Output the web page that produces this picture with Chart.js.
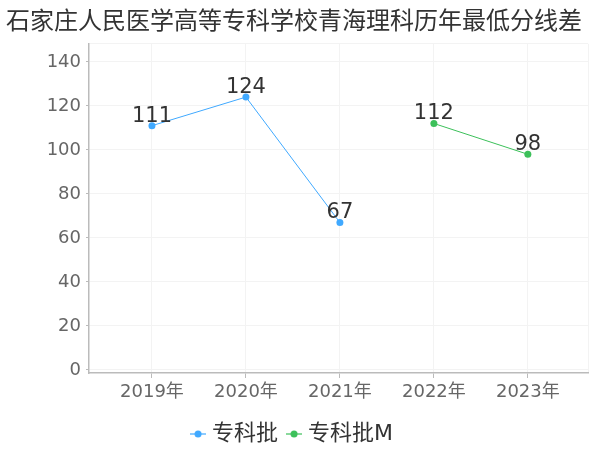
<!DOCTYPE html>
<html>
<head>
<meta charset="utf-8">
<script src="https://cdn.jsdelivr.net/npm/chart.js@4/dist/chart.umd.min.js"></script>
<style>
html,body{margin:0;padding:0;background:#fff;}
#wrap{width:600px;height:450px;}
</style>
</head>
<body>
<div id="wrap"><canvas id="c" width="600" height="450"></canvas></div>
<script>
const titleText = '石家庄人民医学高等专科学校青海理科历年最低分线差';
const categories = ['2019年', '2020年', '2021年', '2022年', '2023年'];
const seriesNames = ['专科批', '专科批M'];
const seriesA = [111, 124, 67, null, null];
const seriesB = [null, null, null, 112, 98];
const yTicks = [0, 20, 40, 60, 80, 100, 120, 140];
const colors = ['#40a9ff', '#3cc05a'];

const FONT = "'DejaVu Sans', 'Noto Sans CJK SC', sans-serif";
const CJK = "'Noto Sans CJK SC', sans-serif";
const Y_MIN = -1.37, Y_MAX = 148.2;
const X_MIN = -0.67, X_MAX = 4.64;

function toPoints(arr){ return arr.map((v,i)=>({x:i, y:v})); }

function legendIcon(color){
  const c = document.createElement('canvas');
  c.width = 16; c.height = 10;
  const g = c.getContext('2d');
  g.strokeStyle = color; g.globalAlpha = 0.6; g.lineWidth = 2;
  g.beginPath(); g.moveTo(0,5); g.lineTo(16,5); g.stroke();
  g.globalAlpha = 1; g.fillStyle = color;
  g.beginPath(); g.arc(8,5,3.5,0,Math.PI*2); g.fill();
  return c;
}

const labelPlugin = {
  id: 'valueLabels',
  afterDatasetsDraw(chart){
    const ctx = chart.ctx;
    ctx.save();
    ctx.font = "21px " + FONT;
    ctx.fillStyle = '#333';
    ctx.textAlign = 'center';
    ctx.textBaseline = 'bottom';
    chart.data.datasets.forEach((ds, di)=>{
      const meta = chart.getDatasetMeta(di);
      meta.data.forEach((pt, i)=>{
        const v = ds.data[i].y;
        if (v === null || v === undefined) return;
        ctx.fillText(String(v), pt.x, pt.y + 1);
      });
    });
    ctx.restore();
  }
};

new Chart(document.getElementById('c'), {
  type: 'line',
  data: {
    datasets: [
      { label: seriesNames[0], data: toPoints(seriesA), borderColor: colors[0], backgroundColor: colors[0],
        borderWidth: 1, pointRadius: 3.5, pointBorderWidth: 0, pointBackgroundColor: colors[0], spanGaps: false },
      { label: seriesNames[1], data: toPoints(seriesB), borderColor: colors[1], backgroundColor: colors[1],
        borderWidth: 1, pointRadius: 3.5, pointBorderWidth: 0, pointBackgroundColor: colors[1], spanGaps: false }
    ]
  },
  options: {
    responsive: false,
    animation: false,
    layout: { padding: { left: 0, right: 12, top: 0, bottom: -5 } },
    plugins: {
      title: { display: true, text: titleText, color: '#333', font: { family: CJK, size: 24, weight: 'normal' },
               padding: { top: 5, bottom: 10 } },
      legend: {
        position: 'bottom',
        labels: {
          color: '#333', font: { family: FONT, size: 22 }, padding: 13, boxWidth: 6, boxHeight: 10,
          usePointStyle: true,
          generateLabels(chart){
            return chart.data.datasets.map((ds, i)=>({
              text: ds.label, fillStyle: ds.borderColor, strokeStyle: ds.borderColor, lineWidth: 0,
              pointStyle: legendIcon(ds.borderColor), datasetIndex: i, hidden: false, fontColor: '#333'
            }));
          }
        }
      },
      tooltip: { enabled: false }
    },
    scales: {
      x: {
        type: 'linear', min: X_MIN, max: X_MAX,
        afterBuildTicks(scale){ scale.ticks = categories.map((c,i)=>({value:i})).concat([{value: X_MAX}]); },
        afterFit(scale){ scale.height = 37; },
        ticks: { color: '#666', font: { family: FONT, size: 18 }, padding: 4, autoSkip: false, maxRotation: 0,
                 callback(v){ return Number.isInteger(v) ? categories[v] : ''; } },
        grid: { color: '#f3f3f3', lineWidth: 1, drawTicks: true, tickLength: 5,
                tickColor: (ctx)=> (ctx.tick && Number.isInteger(ctx.tick.value)) ? '#bbb' : 'rgba(0,0,0,0)' },
        border: { display: true, color: '#bbb', width: 1.5 }
      },
      y: {
        type: 'linear', min: Y_MIN, max: Y_MAX,
        afterBuildTicks(scale){ scale.ticks = yTicks.map(v=>({value:v})).concat([{value: Y_MAX}]); },
        afterFit(scale){ scale.width = 89; },
        ticks: { color: '#666', font: { family: FONT, size: 18 }, padding: 5,
                 callback(v){ return yTicks.includes(v) ? String(v) : ''; } },
        grid: { color: '#f3f3f3', lineWidth: 1, drawTicks: true, tickLength: 3,
                tickColor: (ctx)=> (ctx.tick && yTicks.includes(ctx.tick.value)) ? '#bbb' : 'rgba(0,0,0,0)' },
        border: { display: true, color: '#bbb', width: 1.5 }
      }
    }
  },
  plugins: [labelPlugin]
});
</script>
</body>
</html>
